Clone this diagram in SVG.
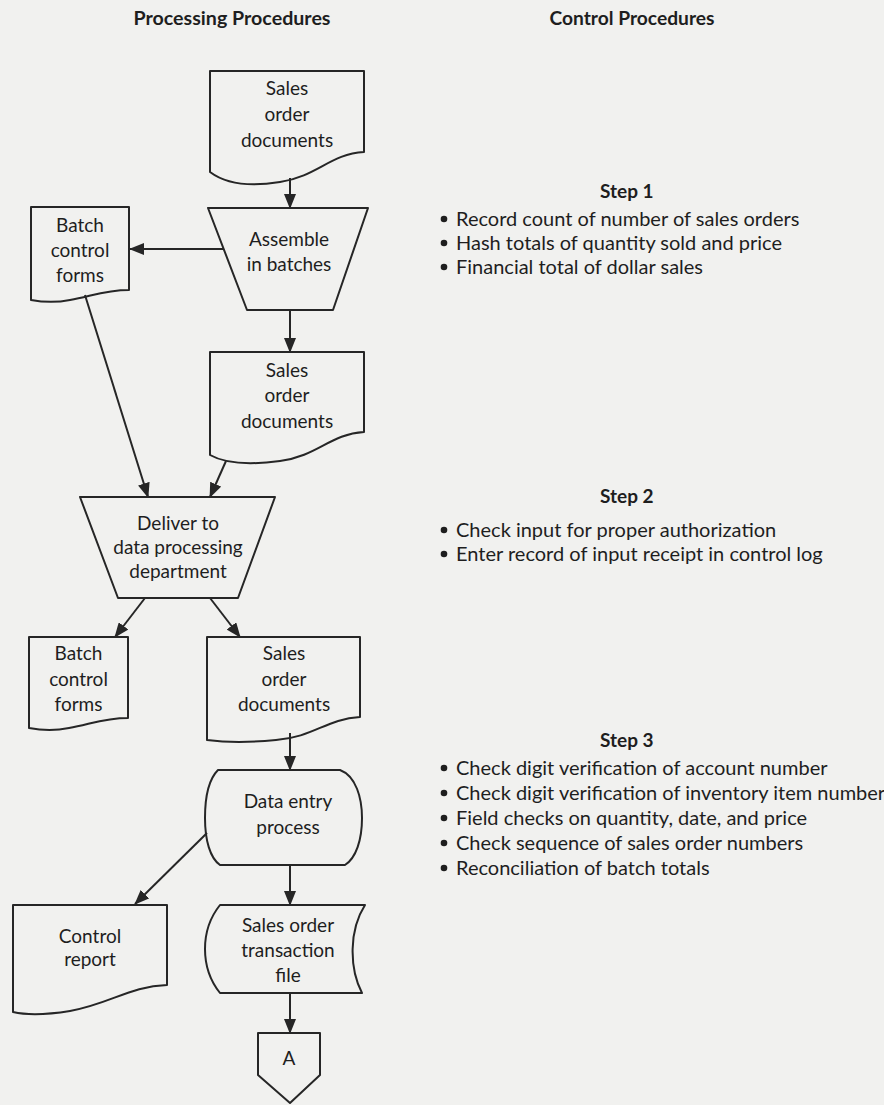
<svg xmlns="http://www.w3.org/2000/svg" width="884" height="1105" viewBox="0 0 884 1105">
<defs>
<marker id="ah" markerWidth="15" markerHeight="12" refX="14" refY="6" orient="auto" markerUnits="userSpaceOnUse">
<path d="M0,0 L15,6 L0,12 Z" fill="#262626"/>
</marker>
<style>
.bg{fill:#f1f1ef}
.sh{fill:none;stroke:#262626;stroke-width:2;stroke-linejoin:round}
.lbl{font-family:Lato,"Liberation Sans",sans-serif;font-size:19px;fill:#1e1e1e;text-anchor:middle}
.ttl{font-family:Lato,"Liberation Sans",sans-serif;font-size:19px;font-weight:bold;fill:#1e1e1e;text-anchor:middle}
.step{font-family:Lato,"Liberation Sans",sans-serif;font-size:19px;font-weight:bold;fill:#1e1e1e}
.bul{font-family:Lato,"Liberation Sans",sans-serif;font-size:20px;fill:#1e1e1e}
.dot{fill:#1e1e1e}
.cn{fill:none;stroke:#262626;stroke-width:2;marker-end:url(#ah)}
</style>
</defs>
<rect class="bg" x="0" y="0" width="884" height="1105"/>

<g id="titles">
<text class="ttl" x="232" y="25" textLength="197" lengthAdjust="spacingAndGlyphs">Processing Procedures</text>
<text class="ttl" x="632" y="25" textLength="165" lengthAdjust="spacingAndGlyphs">Control Procedures</text>
</g>

<g id="connectors">
<line class="cn" x1="290" y1="178" x2="290" y2="208"/>
<line class="cn" x1="223" y1="249" x2="130" y2="249"/>
<line class="cn" x1="85" y1="295" x2="148" y2="497"/>
<line class="cn" x1="290" y1="310" x2="290" y2="352"/>
<line class="cn" x1="226" y1="461" x2="210" y2="497"/>
<line class="cn" x1="145" y1="598" x2="115" y2="637"/>
<line class="cn" x1="210" y1="598" x2="240" y2="637"/>
<line class="cn" x1="290" y1="733" x2="290" y2="770"/>
<line class="cn" x1="207" y1="833" x2="135" y2="904"/>
<line class="cn" x1="290" y1="865" x2="290" y2="905"/>
<line class="cn" x1="290" y1="993" x2="290" y2="1033"/>
</g>

<g id="sales-order-docs-1">
<path class="sh" d="M210,71 H364 V152 C330,154 318,176 280,182 C250,187 226,184 210,172 Z"/>
<text class="lbl" x="287" y="95">Sales</text>
<text class="lbl" x="287" y="121">order</text>
<text class="lbl" x="287" y="147">documents</text>
</g>

<g id="assemble-in-batches">
<path class="sh" d="M208,208 H368 L333,310 H247 Z"/>
<text class="lbl" x="289" y="246">Assemble</text>
<text class="lbl" x="289" y="271">in batches</text>
</g>

<g id="batch-control-forms-1">
<path class="sh" d="M31,207 H129 V290 C105,290 92,296 70,300 C55,303 42,302 31,300 Z"/>
<text class="lbl" x="80" y="232">Batch</text>
<text class="lbl" x="80" y="257">control</text>
<text class="lbl" x="80" y="282">forms</text>
</g>

<g id="sales-order-docs-2">
<path class="sh" d="M210,352 H364 V432 C330,434 318,456 280,461 C250,465 226,464 210,455 Z"/>
<text class="lbl" x="287" y="377">Sales</text>
<text class="lbl" x="287" y="402">order</text>
<text class="lbl" x="287" y="428">documents</text>
</g>

<g id="deliver-to-dp">
<path class="sh" d="M80,497 H275 L238,598 H118 Z"/>
<text class="lbl" x="178" y="530">Deliver to</text>
<text class="lbl" x="178" y="554">data processing</text>
<text class="lbl" x="178" y="578">department</text>
</g>

<g id="batch-control-forms-2">
<path class="sh" d="M29,637 H128 V718 C104,718 91,724 69,728 C54,731 40,730 29,728 Z"/>
<text class="lbl" x="78.5" y="660">Batch</text>
<text class="lbl" x="78.5" y="686">control</text>
<text class="lbl" x="78.5" y="711">forms</text>
</g>

<g id="sales-order-docs-3">
<path class="sh" d="M207,637 H360 V717 C326,719 314,737 276,740 C246,743 222,742 207,740 Z"/>
<text class="lbl" x="284" y="660">Sales</text>
<text class="lbl" x="284" y="686">order</text>
<text class="lbl" x="284" y="711">documents</text>
</g>

<g id="data-entry-process">
<path class="sh" d="M218,770 H340 C356,776 362,798 362,818 C362,840 356,858 345,865 H220 C210,858 205,840 205,818 C205,798 208,780 218,770 Z"/>
<text class="lbl" x="288" y="808">Data entry</text>
<text class="lbl" x="288" y="834">process</text>
</g>

<g id="control-report">
<path class="sh" d="M13,905 H167 V985 C130,986 110,1004 70,1011 C45,1015 26,1015 13,1012 Z"/>
<text class="lbl" x="90" y="943">Control</text>
<text class="lbl" x="90" y="966">report</text>
</g>

<g id="sales-order-transaction-file">
<path class="sh" d="M220,905 H365 C349,930 349,968 362,993 H220 C200,968 200,930 220,905 Z"/>
<text class="lbl" x="288" y="932">Sales order</text>
<text class="lbl" x="288" y="957">transaction</text>
<text class="lbl" x="288" y="982">file</text>
</g>

<g id="connector-A">
<path class="sh" d="M258,1033 H320 V1075 L290,1103 L258,1075 Z"/>
<text class="lbl" x="289" y="1065">A</text>
</g>

<g id="step-1">
<text class="step" x="600" y="198">Step 1</text>
<circle class="dot" cx="444" cy="219" r="3.3"/>
<text class="bul" x="456" y="226">Record count of number of sales orders</text>
<circle class="dot" cx="444" cy="243" r="3.3"/>
<text class="bul" x="456" y="250">Hash totals of quantity sold and price</text>
<circle class="dot" cx="444" cy="267" r="3.3"/>
<text class="bul" x="456" y="274">Financial total of dollar sales</text>
</g>

<g id="step-2">
<text class="step" x="600" y="503">Step 2</text>
<circle class="dot" cx="444" cy="530" r="3.3"/>
<text class="bul" x="456" y="537">Check input for proper authorization</text>
<circle class="dot" cx="444" cy="554" r="3.3"/>
<text class="bul" x="456" y="561">Enter record of input receipt in control log</text>
</g>

<g id="step-3">
<text class="step" x="600" y="747">Step 3</text>
<circle class="dot" cx="444" cy="768" r="3.3"/>
<text class="bul" x="456" y="775">Check digit verification of account number</text>
<circle class="dot" cx="444" cy="793" r="3.3"/>
<text class="bul" x="456" y="800">Check digit verification of inventory item number</text>
<circle class="dot" cx="444" cy="818" r="3.3"/>
<text class="bul" x="456" y="825">Field checks on quantity, date, and price</text>
<circle class="dot" cx="444" cy="843" r="3.3"/>
<text class="bul" x="456" y="850">Check sequence of sales order numbers</text>
<circle class="dot" cx="444" cy="868" r="3.3"/>
<text class="bul" x="456" y="875">Reconciliation of batch totals</text>
</g>
</svg>
